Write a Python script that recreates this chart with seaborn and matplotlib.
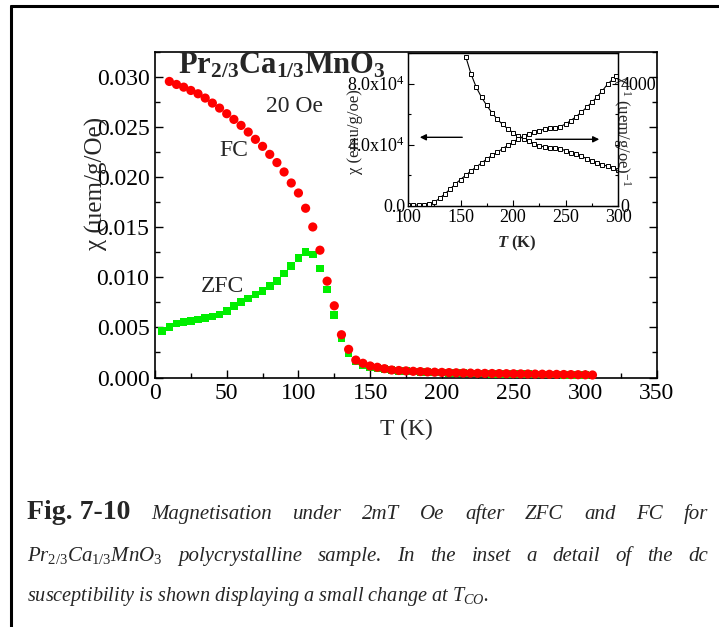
import matplotlib
matplotlib.use("Agg")
import matplotlib.pyplot as plt
import numpy as np
import pandas as pd
import seaborn as sns
from matplotlib.lines import Line2D
from matplotlib.ticker import FixedLocator, FixedFormatter, MultipleLocator

# ---------------- data ----------------
fc_T = [10, 15, 20, 25, 30, 35, 40, 45, 50, 55, 60, 65, 70, 75, 80, 85, 90, 95, 100,
        105, 110, 115, 120, 125, 130, 135, 140, 145, 150, 155, 160, 165, 170, 175, 180,
        185, 190, 195, 200, 205, 210, 215, 220, 225, 230, 235, 240, 245, 250, 255, 260,
        265, 270, 275, 280, 285, 290, 295, 300, 305]
fc_chi = [0.02956, 0.02926, 0.02899, 0.02866, 0.02833, 0.0279, 0.0274, 0.0269, 0.02634,
          0.02577, 0.02517, 0.02451, 0.02378, 0.02308, 0.02228, 0.02146, 0.02052, 0.01942,
          0.01842, 0.0169, 0.01503, 0.01271, 0.00962, 0.00716, 0.00427, 0.00281, 0.00174,
          0.00142, 0.00115, 0.00102, 0.00088, 0.00075, 0.0007, 0.00066, 0.00062, 0.00059,
          0.00056, 0.00053, 0.00051, 0.00049, 0.00047, 0.00045, 0.00044, 0.00042, 0.00041,
          0.0004, 0.00039, 0.00038, 0.00037, 0.00036, 0.00035, 0.00034, 0.00033, 0.00032,
          0.00031, 0.0003, 0.00029, 0.00028, 0.00027, 0.00025]

zfc_T = [5, 10, 15, 20, 25, 30, 35, 40, 45, 50, 55, 60, 65, 70, 75, 80, 85, 90, 95, 100,
         105, 110, 115, 120, 125, 130, 135, 140, 145, 150, 155, 160, 165, 170, 175, 180,
         185, 190, 195, 200, 205, 210, 215, 220, 225, 230, 235, 240, 245, 250, 255, 260,
         265, 270, 275, 280, 285, 290, 295, 300]
zfc_chi = [0.00467, 0.00503, 0.0054, 0.00556, 0.00566, 0.0058, 0.00593, 0.0061, 0.0063,
           0.00666, 0.00713, 0.00756, 0.0079, 0.0083, 0.00866, 0.00912, 0.00965, 0.01039,
           0.01115, 0.01195, 0.01254, 0.01228, 0.01089, 0.00879, 0.00623, 0.00397, 0.00241,
           0.00158, 0.00122, 0.00105, 0.00096, 0.00084, 0.00072, 0.00067, 0.00063, 0.00059,
           0.00056, 0.00053, 0.0005, 0.00048, 0.00046, 0.00044, 0.00042, 0.00041, 0.00039,
           0.00038, 0.00037, 0.00036, 0.00035, 0.00034, 0.00033, 0.00032, 0.00031, 0.0003,
           0.00029, 0.00028, 0.00027, 0.00026, 0.00025, 0.00024]

# inset: chi in units of 1e4 emu/g/oe (left axis)
inset_chi_T = [155, 160, 165, 170, 175, 180, 185, 190, 195, 200, 205, 210, 215, 220, 225,
               230, 235, 240, 245, 250, 255, 260, 265, 270, 275, 280, 285, 290, 295, 300]
inset_chi = [9.76, 8.63, 7.76, 7.11, 6.57, 6.09, 5.68, 5.33, 5.05, 4.79, 4.57, 4.40, 4.23,
             4.08, 3.95, 3.86, 3.82, 3.77, 3.73, 3.62, 3.49, 3.38, 3.27, 3.10, 2.95, 2.84,
             2.71, 2.60, 2.49, 2.34]
# inset: inverse chi (right axis)
inset_inv_T = [100, 105, 110, 115, 120, 125, 130, 135, 140, 145, 150, 155, 160, 165, 170,
               175, 180, 185, 190, 195, 200, 205, 210, 215, 220, 225, 230, 235, 240, 245,
               250, 255, 260, 265, 270, 275, 280, 285, 290, 295, 298]
inset_inv = [40, 30, 35, 45, 70, 120, 250, 390, 550, 715, 865, 1005, 1145, 1275, 1405,
             1535, 1655, 1760, 1870, 1980, 2085, 2195, 2280, 2355, 2410, 2465, 2510, 2540,
             2560, 2595, 2680, 2790, 2920, 3060, 3220, 3385, 3565, 3760, 3980, 4140, 4250]

main_xticks = [0, 50, 100, 150, 200, 250, 300, 350]
main_yticks = [0.000, 0.005, 0.010, 0.015, 0.020, 0.025, 0.030]
main_ytick_labels = ["0.000", "0.005", "0.010", "0.015", "0.020", "0.025", "0.030"]
inset_xticks = [100, 150, 200, 250, 300]
inset_left_ticks = [0, 4, 8]
inset_left_labels = ["0.0", "4.0x10$^4$", "8.0x10$^4$"]
inset_right_ticks = [0, 4000]
inset_right_labels = ["0", "4000"]

# ---------------- style ----------------
sns.set_theme(style="ticks")
plt.rcParams["font.family"] = ["Liberation Serif", "DejaVu Serif"]
plt.rcParams["mathtext.fontset"] = "custom"
plt.rcParams["mathtext.rm"] = "Liberation Serif"
plt.rcParams["mathtext.it"] = "Liberation Serif:italic"
plt.rcParams["mathtext.bf"] = "Liberation Serif:bold"
plt.rcParams["mathtext.bfit"] = "Liberation Serif:italic:bold"
plt.rcParams["axes.linewidth"] = 1.2

W, H = 719, 627
fig = plt.figure(figsize=(W / 100, H / 100), dpi=100)
fig.patch.set_facecolor("white")

def fx(px):
    return px / W

def fy(py):
    return 1 - py / H

# ---------------- main axes ----------------
ax = fig.add_axes([fx(155), fy(377.5), (657 - 155) / W, (377.5 - 52) / H])
ax.set_facecolor("white")

df_zfc = pd.DataFrame({"T": zfc_T, "chi": zfc_chi})
df_fc = pd.DataFrame({"T": fc_T, "chi": fc_chi})
sns.scatterplot(data=df_zfc, x="T", y="chi", marker="s", color="#00ee00", s=30,
                edgecolor="none", ax=ax, clip_on=False, zorder=3)
sns.scatterplot(data=df_fc, x="T", y="chi", marker="o", color="#ff0000", s=44,
                edgecolor="none", ax=ax, clip_on=False, zorder=4)

ax.set_xlim(0, 350)
ax.set_ylim(0, 0.0325)
ax.xaxis.set_major_locator(FixedLocator(main_xticks))
ax.xaxis.set_minor_locator(MultipleLocator(25))
ax.yaxis.set_major_locator(FixedLocator(main_yticks))
ax.yaxis.set_major_formatter(FixedFormatter(main_ytick_labels))
ax.yaxis.set_minor_locator(MultipleLocator(0.0025))
ax.tick_params(which="both", direction="in", right=True, top=False, width=1.0,
               labelsize=17, colors="black")
ax.tick_params(which="major", length=6, pad=4)
ax.tick_params(which="minor", length=3.5)
for s in ax.spines.values():
    s.set_visible(True)
    s.set_color("black")

ax.set_xlabel("T (K)", fontsize=17)
ax.xaxis.label.set_va("center")
ax.xaxis.set_label_coords(0.5, (377.5 - 429) / 325.5)
ax.set_ylabel("\u03c7 (uem/g/Oe)", fontsize=18)
ax.yaxis.label.set_va("center")
ax.yaxis.set_label_coords((96 - 155) / 502, (377.5 - 183) / 325.5)

fig.text(fx(178), fy(73), r"$\mathbf{Pr_{2/3}Ca_{1/3}MnO_3}$", fontsize=22,
         ha="left", va="baseline")
fig.text(fx(295), fy(107), "20 Oe", fontsize=17, ha="center", va="center")
fig.text(fx(234), fy(150), "FC", fontsize=17, ha="center", va="center")
fig.text(fx(222), fy(287), "ZFC", fontsize=17, ha="center", va="center")

# ---------------- inset ----------------
axin = fig.add_axes([fx(408), fy(206), (618 - 408) / W, (206 - 53) / H])
axin.set_facecolor("white")
axin2 = axin.twinx()

sns.lineplot(x=inset_chi_T, y=inset_chi, ax=axin, color="black", lw=0.8,
             marker="s", markersize=3.1, markerfacecolor="white",
             markeredgecolor="black", markeredgewidth=0.7)
sns.lineplot(x=inset_inv_T, y=inset_inv, ax=axin2, color="black", lw=0.8,
             marker="s", markersize=3.1, markerfacecolor="white",
             markeredgecolor="black", markeredgewidth=0.7)

axin.set_xlim(100, 300)
axin.set_ylim(0, 10)
axin2.set_ylim(0, 5000)
axin.xaxis.set_major_locator(FixedLocator(inset_xticks))
axin.xaxis.set_minor_locator(MultipleLocator(25))
axin.yaxis.set_major_locator(FixedLocator(inset_left_ticks))
axin.yaxis.set_major_formatter(FixedFormatter(inset_left_labels))
axin.yaxis.set_minor_locator(MultipleLocator(2))
axin2.yaxis.set_major_locator(FixedLocator(inset_right_ticks))
axin2.yaxis.set_major_formatter(FixedFormatter(inset_right_labels))
axin2.yaxis.set_minor_locator(MultipleLocator(1000))
for a in (axin, axin2):
    a.tick_params(which="both", direction="in", labelsize=13, width=0.8,
                  colors="black", pad=2)
    a.tick_params(which="major", length=4)
    a.tick_params(which="minor", length=2.5)
    for s in a.spines.values():
        s.set_linewidth(0.9)
        s.set_color("black")

axin.set_xlabel(r"$\mathbfit{T}$ (K)", fontsize=12, fontweight="bold")
axin.xaxis.label.set_va("center")
axin.xaxis.set_label_coords((517 - 408) / 210, (206 - 243) / 153)
axin.set_ylabel("\u03c7 (emu/g/oe)", fontsize=12)
axin.yaxis.label.set_va("center")
axin.yaxis.set_label_coords((355 - 408) / 210, (206 - 132) / 153)
axin2.set_ylabel("\u03c7$^{-1}$ (uem/g/oe)$^{-1}$", fontsize=12, rotation=-90)
axin2.yaxis.label.set_va("center")
axin2.yaxis.label.set_ha("center")
axin2.yaxis.set_label_coords((622 - 408) / 210, (206 - 131) / 153)

# arrows in inset
axin.annotate("", xy=(108.6, 4.49), xytext=(154.3, 4.49),
              arrowprops=dict(arrowstyle="-|>", color="black", lw=1.0,
                              mutation_scale=9))
axin.annotate("", xy=(284.8, 4.36), xytext=(219.0, 4.36),
              arrowprops=dict(arrowstyle="-|>", color="black", lw=1.0,
                              mutation_scale=9))

# ---------------- outer frame ----------------
fig.add_artist(Line2D([fx(11), 1.0], [fy(6), fy(6)], transform=fig.transFigure,
                      color="black", lw=2.2))
fig.add_artist(Line2D([fx(11), fx(11)], [0.0, fy(6)], transform=fig.transFigure,
                      color="black", lw=2.2))

# ---------------- caption ----------------
renderer = fig.canvas.get_renderer()

def justified(items, x0, x1, baseline):
    texts = []
    for word, kw in items:
        t = fig.text(0, fy(baseline), word, ha="left", va="baseline", **kw)
        texts.append(t)
    widths = [t.get_window_extent(renderer).width for t in texts]
    gap = (x1 - x0 - sum(widths)) / (len(texts) - 1)
    x = x0
    for t, w in zip(texts, widths):
        t.set_x(fx(x))
        x += w + gap

bold = dict(fontsize=20, fontweight="bold")
ital = dict(fontsize=15, style="italic")

line1 = [("Fig. 7-10", bold)] + [(w, ital) for w in
         "Magnetisation under 2mT Oe after ZFC and FC for".split()]
line2 = [(r"$\mathit{Pr_{2/3}Ca_{1/3}MnO_3}$", ital)] + [(w, ital) for w in
         "polycrystalline sample. In the inset a detail of the dc".split()]
justified(line1, 27, 708, 519)
justified(line2, 27, 708, 561)
fig.text(fx(27), fy(601), r"susceptibility is shown displaying a small change at $\mathit{T_{CO}}$.",
         ha="left", va="baseline", fontsize=14.6, style="italic")

fig.savefig("out.png", dpi=100, facecolor="white")
